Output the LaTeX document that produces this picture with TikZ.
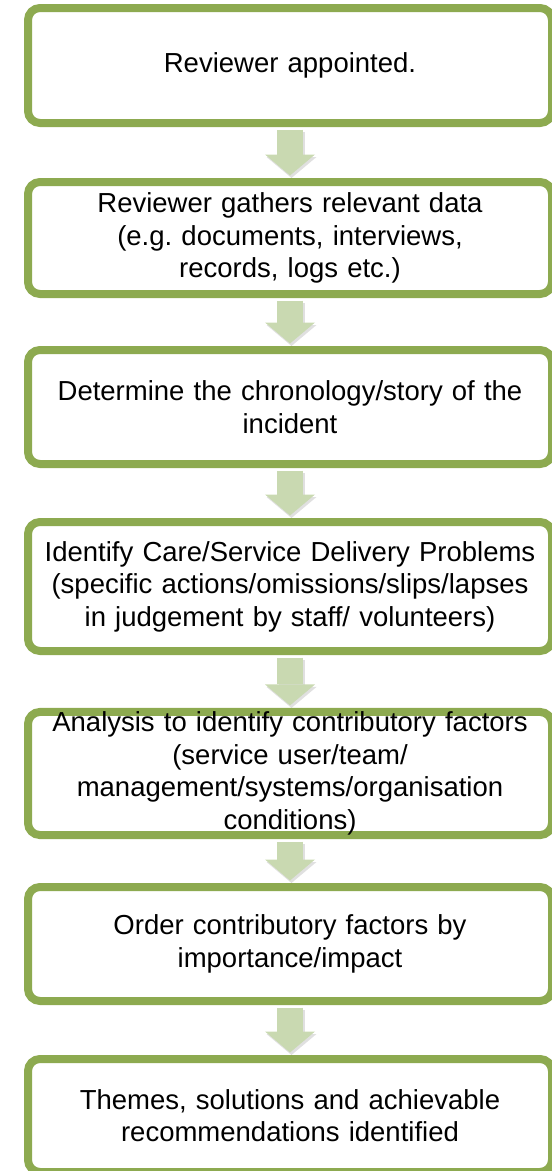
\documentclass[tikz,border=0pt]{standalone}
\usepackage{fontspec}
\setmainfont{Liberation Sans}
\usetikzlibrary{positioning,arrows.meta,shadows}

\definecolor{boxgreen}{RGB}{141,170,80}
\definecolor{arrowgreen}{RGB}{201,217,177}

\tikzset{
    stepbox/.style={draw=boxgreen, line width=8pt, rounded corners=12pt, fill=white,
        minimum width=524pt, text width=516pt, inner sep=0pt, align=center,
        font=\fontsize{27.5}{32.5}\selectfont,
        drop shadow={opacity=0.25, shadow xshift=1.5pt, shadow yshift=-2.5pt}},
    flowarrow/.style={line width=26pt, draw=arrowgreen,
        -{Triangle[width=50pt, length=21pt, line width=0pt]},
        shorten <=2.5pt, shorten >=2.5pt},
    flowshadow/.style={flowarrow, draw=black, opacity=0.12,
        transform canvas={shift={(1.5pt,-2.5pt)}}}
}

\begin{document}
\frenchspacing
\begin{tikzpicture}[x=1pt, y=-1pt]

        \useasboundingbox (0,0) rectangle (552,1171);

        \coordinate (c1) at (290,65.5);
        \coordinate (c2) at (290,238);
        \coordinate (c3) at (290,407);
        \coordinate (c4) at (290,586.5);
        \coordinate (c5) at (290,773.5);
        \coordinate (c6) at (290,944);
        \coordinate (c7) at (290,1115.5);

        \node[stepbox, minimum height=115pt] (box1) at (c1) {Reviewer appointed.};
        \node[stepbox, minimum height=112pt] (box2) at (c2) {Reviewer gathers relevant data\\(e.g.\ documents, interviews,\\records, logs etc.)};
        \node[stepbox, minimum height=114pt] (box3) at (c3) {Determine the chronology/story of the\\incident};
        \node[stepbox, minimum height=129pt] (box4) at (c4) {Identify Care/Service Delivery Problems\\(specific actions/omissions/slips/lapses\\in judgement by staff/ volunteers)};
        \node[stepbox, minimum height=113pt] (box5) at (c5) {Analysis to identify contributory factors\\(service user/team/\\management/systems/organisation\\conditions)};
        \node[stepbox, minimum height=114pt] (box6) at (c6) {Order contributory factors by\\importance/impact};
        \node[stepbox, minimum height=113pt] (box7) at (c7) {Themes, solutions and achievable\\recommendations identified};

        \foreach \a/\b in {1/2,2/3,3/4,4/5,5/6,6/7} {
            \path[flowshadow] (box\a.south) -- (box\b.north);
            \path[flowarrow] (box\a.south) -- (box\b.north);
        }

\end{tikzpicture}
\end{document}
